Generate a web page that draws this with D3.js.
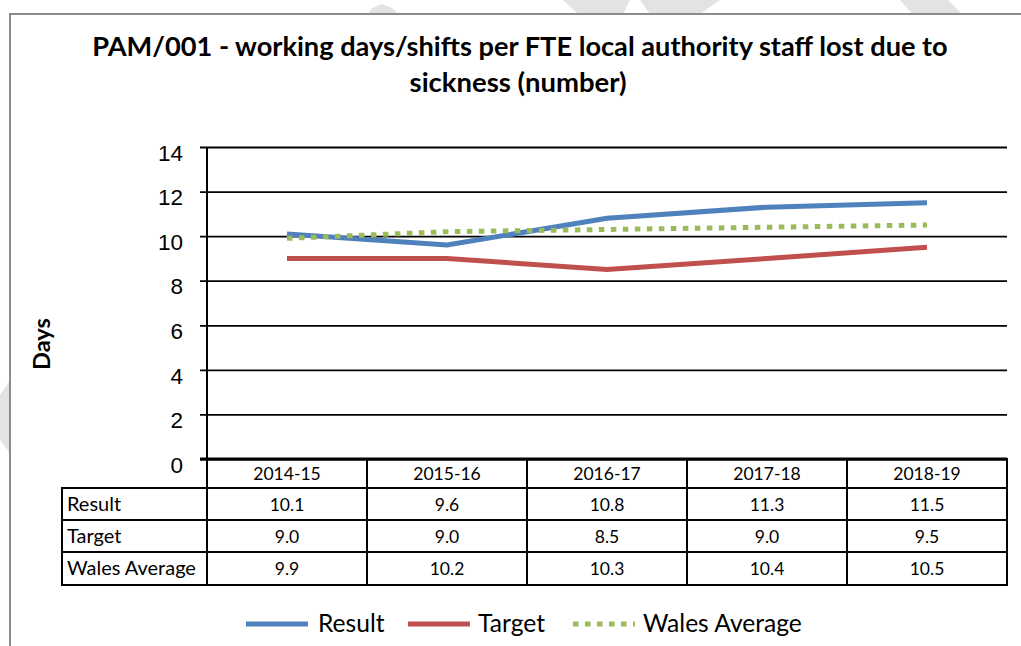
<!DOCTYPE html>
<html>
<head>
<meta charset="utf-8">
<script src="https://cdn.jsdelivr.net/npm/d3@7/dist/d3.min.js"></script>
<style>
  html, body { margin: 0; padding: 0; background: #fff; }
  svg { display: block; font-family: Lato, "Open Sans", sans-serif; }
</style>
</head>
<body>
<svg id="chart" width="1021" height="646"></svg>
<script>
// Sickness absence per FTE, by financial year
const categories = ["2014-15", "2015-16", "2016-17", "2017-18", "2018-19"];
const resultValues = [10.1, 9.6, 10.8, 11.3, 11.5];
const targetValues = [9.0, 9.0, 8.5, 9.0, 9.5];
const walesAverageValues = [9.9, 10.2, 10.3, 10.4, 10.5];
const yTicks = [0, 2, 4, 6, 8, 10, 12, 14];

const series = [
  { name: "Result", values: resultValues, color: "#4F81BD", dash: null },
  { name: "Target", values: targetValues, color: "#C0504D", dash: null },
  { name: "Wales Average", values: walesAverageValues, color: "#9BBB59", dash: "5.5,6.5" }
];

const svg = d3.select("#chart");

// faint background shapes behind the chart frame
const bg = svg.append("g").attr("fill", "#e3e3e3");
[
  [[368, 14], [372, 8], [382, 4], [392, 8], [398, 14]],
  [[563, 0], [630, 0], [623, 14], [578, 14]],
  [[640, 0], [720, 0], [700, 14], [650, 14]],
  [[900, 0], [948, 0], [962, 14], [912, 14]],
  [[0, 395], [9, 382], [9, 452], [0, 440]]
].forEach(p => bg.append("polygon").attr("points", p.map(d => d.join(",")).join(" ")));

// chart frame
svg.append("rect")
  .attr("x", 10).attr("y", 14).attr("width", 1030).attr("height", 660)
  .attr("fill", "#fff").attr("stroke", "#8c8c8c").attr("stroke-width", 2);

const plot = { left: 207, right: 1007, top: 147, bottom: 459 };

const x = d3.scaleBand().domain(categories).range([plot.left, plot.right]);
const y = d3.scaleLinear().domain([0, 14]).range([plot.bottom, plot.top]);
const cx = c => x(c) + x.bandwidth() / 2;

// helper: scale font so the text fits the given width; returns the size used
function fitWidth(node, width) {
  const fs = parseFloat(getComputedStyle(node).fontSize);
  const w = node.getComputedTextLength();
  const size = w > 0 ? fs * width / w : fs;
  node.style.fontSize = size + "px";
  return size;
}

// title
const title = svg.append("g").attr("font-weight", "bold").attr("fill", "#000").attr("text-anchor", "middle");
fitWidth(title.append("text").attr("x", 520).attr("y", 56).style("font-size", "23px")
  .text("PAM/001 - working days/shifts per FTE local authority staff lost due to").node(), 856);
fitWidth(title.append("text").attr("x", 518).attr("y", 92).style("font-size", "23px")
  .text("sickness (number)").node(), 217);

// y axis with gridlines spanning the plot
const yAxis = d3.axisLeft(y).tickValues(yTicks).tickSize(plot.right - 200).tickPadding(17).tickFormat(d3.format("d"));
const yg = svg.append("g").attr("transform", `translate(${plot.right},0)`).call(yAxis);
yg.select(".domain").remove();
yg.selectAll(".tick line").attr("stroke", "#000").attr("stroke-width", 1.8);
yg.selectAll(".tick text").attr("fill", "#000").style("font-size", "22.5px").attr("dy", "0.72em")
  .attr("y", -3);

// vertical axis line
svg.append("line").attr("x1", plot.left).attr("x2", plot.left)
  .attr("y1", plot.top).attr("y2", plot.bottom).attr("stroke", "#000").attr("stroke-width", 2);

// y axis title
const days = svg.append("text").attr("transform", "translate(50,344) rotate(-90)")
  .attr("text-anchor", "middle").attr("font-weight", "bold").style("font-size", "20px").text("Days");
fitWidth(days.node(), 52);

// series lines
const line = d3.line().x((d, i) => cx(categories[i])).y(d => y(d));
svg.append("g").selectAll("path").data(series).join("path")
  .attr("d", s => line(s.values))
  .attr("fill", "none")
  .attr("stroke", s => s.color)
  .attr("stroke-width", 5)
  .attr("stroke-dasharray", s => s.dash);

// data table
const rowTop = [488, 520, 552];
const rowH = 32;
const headerTop = plot.bottom;
const tableLeft = 62;
const tbl = svg.append("g").attr("stroke", "#000").attr("stroke-width", 2);

// header row
tbl.append("rect").attr("x", plot.left).attr("y", headerTop).attr("width", plot.right - plot.left)
  .attr("height", rowTop[0] - headerTop).attr("fill", "none");
// data rows
tbl.append("rect").attr("x", tableLeft).attr("y", rowTop[0]).attr("width", plot.right - tableLeft)
  .attr("height", rowH * 3 + 1).attr("fill", "none");
rowTop.slice(1).forEach(t => tbl.append("line").attr("x1", tableLeft).attr("x2", plot.right).attr("y1", t).attr("y2", t));
categories.forEach(c => tbl.append("line").attr("x1", x(c)).attr("x2", x(c)).attr("y1", headerTop).attr("y2", rowTop[0] + rowH * 3 + 1));
// heavier category axis line
svg.append("line").attr("x1", 200).attr("x2", plot.right).attr("y1", plot.bottom).attr("y2", plot.bottom)
  .attr("stroke", "#000").attr("stroke-width", 3);

const tt = svg.append("g").attr("fill", "#000").style("font-size", "17.5px");
tt.selectAll("text.cat").data(categories).join("text").attr("class", "cat")
  .attr("x", d => cx(d)).attr("y", 480).attr("text-anchor", "middle").text(d => d);
const rowLabels = series.map((s, r) =>
  tt.append("text").attr("x", 67).attr("y", rowTop[r] + 23).text(s.name).node());
const labelSize = fitWidth(rowLabels[2], 129);
rowLabels.forEach(n => n.style.fontSize = labelSize + "px");
series.forEach((s, r) => {
  tt.selectAll(null).data(s.values).join("text")
    .attr("x", (d, i) => cx(categories[i])).attr("y", rowTop[r] + 23)
    .attr("text-anchor", "middle").text(d => d3.format(".1f")(d));
});

// legend
const legendItems = [
  { s: series[0], x0: 246, tx: 318 },
  { s: series[1], x0: 408, tx: 478 },
  { s: series[2], x0: 573, tx: 643 }
];
const lg = svg.append("g");
const legendTexts = legendItems.map(it => {
  lg.append("line").attr("x1", it.x0).attr("x2", it.x0 + 62).attr("y1", 624).attr("y2", 624)
    .attr("stroke", it.s.color).attr("stroke-width", 5).attr("stroke-dasharray", it.s.dash);
  return lg.append("text").attr("x", it.tx).attr("y", 632).style("font-size", "22px").attr("fill", "#000")
    .text(it.s.name).node();
});
const legendSize = fitWidth(legendTexts[2], 159);
legendTexts.forEach(n => n.style.fontSize = legendSize + "px");
</script>
</body>
</html>
